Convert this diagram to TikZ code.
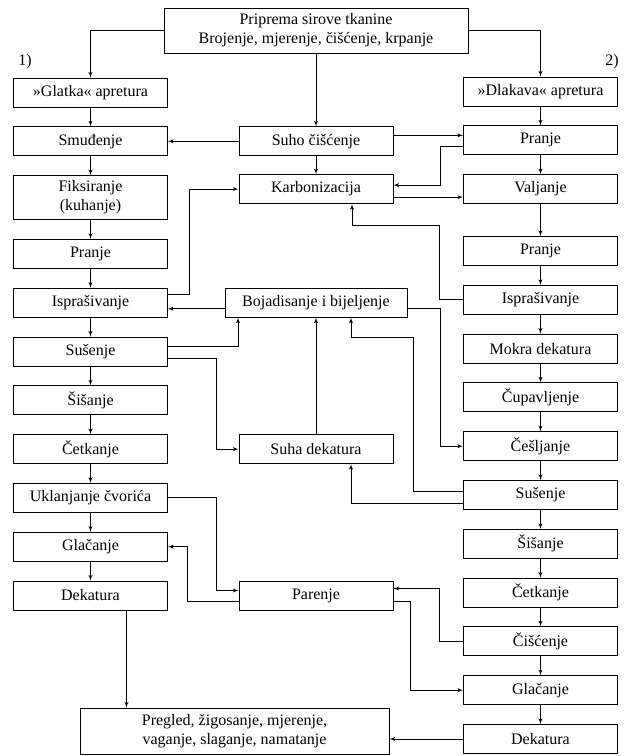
\documentclass[tikz,border=0pt]{standalone}
\usepackage{fontspec}
\setmainfont{Liberation Serif}
\usetikzlibrary{shapes, arrows, calc, positioning}
\tikzstyle{line} = [draw, -latex']
\tikzstyle{block} = [rectangle, draw, text centered, align=center, minimum width=154pt, minimum height=29pt, inner sep=4pt, font=\fontsize{16}{19}\selectfont]
\tikzstyle{label} = [font=\fontsize{16}{19}\selectfont]

\begin{document}
\begin{tikzpicture}[node distance=18.9pt, on grid=false, x=1pt, y=-1pt, line width=0.9pt]
\useasboundingbox (0,0) rectangle (632,756);
\node [block, minimum width=304pt, minimum height=45pt] (priprema) at (316,30.5) {Priprema sirove tkanine\\Brojenje, mjerenje, čišćenje, krpanje};
\node [label] (jedan) at (25,62) {1)};
\node [label] (dva) at (612,62) {2)};
% lijevi stupac
\node [block] (glatka) at (90.5,92.5) {»Glatka« apretura};
\node [block, below=of glatka] (smudjenje) {Smuđenje};
\node [block, below=of smudjenje, minimum height=44pt] (fiksiranje) {Fiksiranje\\(kuhanje)};
\node [block, below=of fiksiranje] (pranjel) {Pranje};
\node [block, below=of pranjel] (isprasivanjel) {Isprašivanje};
\node [block, below=of isprasivanjel] (susenjel) {Sušenje};
\node [block, below=of susenjel] (sisanjel) {Šišanje};
\node [block, below=of sisanjel] (cetkanjel) {Četkanje};
\node [block, below=of cetkanjel] (uklanjanje) {Uklanjanje čvorića};
\node [block, below=of uklanjanje] (glacanjel) {Glačanje};
\node [block, below=of glacanjel] (dekatural) {Dekatura};
% desni stupac
\node [block] (dlakava) at (540.5,91.5) {»Dlakava« apretura};
\node [block, below=of dlakava] (pranjed) {Pranje};
\node [block, below=of pranjed] (valjanje) {Valjanje};
\node [block, below=32pt of valjanje] (pranjedd) {Pranje};
\node [block, below=of pranjedd] (isprasivanjed) {Isprašivanje};
\node [block, below=of isprasivanjed] (mokradekatura) {Mokra dekatura};
\node [block, below=of mokradekatura] (cupavljenje) {Čupavljenje};
\node [block, below=of cupavljenje] (cesljanje) {Češljanje};
\node [block, below=of cesljanje] (susenjed) {Sušenje};
\node [block, below=of susenjed] (sisanjed) {Šišanje};
\node [block, below=of sisanjed] (cetkanjed) {Četkanje};
\node [block, below=of cetkanjed] (ciscenje) {Čišćenje};
\node [block, below=of ciscenje] (glacanjed) {Glačanje};
\node [block, below=of glacanjed] (dekaturad) {Dekatura};
% sredina
\node [block] (suhociscenje) at (priprema |- smudjenje) {Suho čišćenje};
\node [block] (karbonizacija) at (priprema |- valjanje) {Karbonizacija};
\node [block, minimum width=182pt] (bojadisanje) at (priprema |- isprasivanjel) {Bojadisanje i bijeljenje};
\node [block] (suhadekatura) at (priprema |- cetkanjel) {Suha dekatura};
\node [block] (parenje) at (priprema |- dekatural) {Parenje};
\node [block, minimum width=309pt, minimum height=46pt] (pregled) at (234.5,731) {Pregled, žigosanje, mjerenje,\\vaganje, slaganje, namatanje};
% veze
\path [line] (priprema.west) -| (glatka);
\path [line] (priprema.east) -| (dlakava);
\path [line] (priprema) -- (suhociscenje);
\path [line] (glatka) -- (smudjenje);
\path [line] (smudjenje) -- (fiksiranje);
\path [line] (fiksiranje) -- (pranjel);
\path [line] (pranjel) -- (isprasivanjel);
\path [line] (isprasivanjel) -- (susenjel);
\path [line] (susenjel) -- (sisanjel);
\path [line] (sisanjel) -- (cetkanjel);
\path [line] (cetkanjel) -- (uklanjanje);
\path [line] (uklanjanje) -- (glacanjel);
\path [line] (glacanjel) -- (dekatural);
\path [line] (dlakava) -- (pranjed);
\path [line] (pranjed) -- (valjanje);
\path [line] (valjanje) -- (pranjedd);
\path [line] (pranjedd) -- (isprasivanjed);
\path [line] (isprasivanjed) -- (mokradekatura);
\path [line] (mokradekatura) -- (cupavljenje);
\path [line] (cupavljenje) -- (cesljanje);
\path [line] (cesljanje) -- (susenjed);
\path [line] (susenjed) -- (sisanjed);
\path [line] (sisanjed) -- (cetkanjed);
\path [line] (cetkanjed) -- (ciscenje);
\path [line] (ciscenje) -- (glacanjed);
\path [line] (glacanjed) -- (dekaturad);
\path [line] (suhociscenje) -- (smudjenje);
\path [line] (suhociscenje) -- (karbonizacija);
\path [line] ([yshift=6pt]suhociscenje.east) -- ([yshift=6pt]suhociscenje.east -| pranjed.west);
\path [line] ([yshift=-6pt]pranjed.west) -- ++(-23,0) |- ([yshift=4pt]karbonizacija.east);
\path [line] ([yshift=-8pt]karbonizacija.east) -- ([yshift=-8pt]karbonizacija.east -| valjanje.west);
\path [line] ([yshift=8pt]isprasivanjel.east) -- ++(21,0) |- (karbonizacija.west);
\path [line] (isprasivanjed.west) -- ++(-23.5,0) -- ++(0,-74) -| ([xshift=36pt]karbonizacija.south);
\path [line] ([yshift=-6pt]bojadisanje.west) -- ([yshift=-6pt]bojadisanje.west -| isprasivanjel.east);
\path [line] ([yshift=-6pt]bojadisanje.east) -- ++(33,0) |- (cesljanje.west);
\path [line] ([yshift=5pt]susenjel.east) -| ([xshift=-78pt]bojadisanje.south);
\path [line] ([yshift=-7pt]susenjel.east) -- ++(48,0) |- (suhadekatura.west);
\path [line] (suhadekatura) -- (bojadisanje);
\path [line] ([yshift=4pt]susenjed.west) -- ++(-50,0) -- ++(0,-154) -| ([xshift=35pt]bojadisanje.south);
\path [line] ([yshift=-8pt]susenjed.west) -| ([xshift=35pt]suhadekatura.south);
\path [line] (uklanjanje.east) -- ++(48,0) |- ([yshift=5pt]parenje.west);
\path [line] ([yshift=-6pt]parenje.west) -- ++(-51,0) |- (glacanjel.east);
\path [line] (ciscenje.west) -- ++(-24,0) |- ([yshift=7pt]parenje.east);
\path [line] ([yshift=-6pt]parenje.east) -- ++(17,0) |- (glacanjed.west);
\path [line] ([xshift=36pt]dekatural.south) -- ([xshift=36pt]dekatural.south |- pregled.north);
\path [line] (dekaturad.west) -- (dekaturad.west -| pregled.east);
\end{tikzpicture}
\end{document}
